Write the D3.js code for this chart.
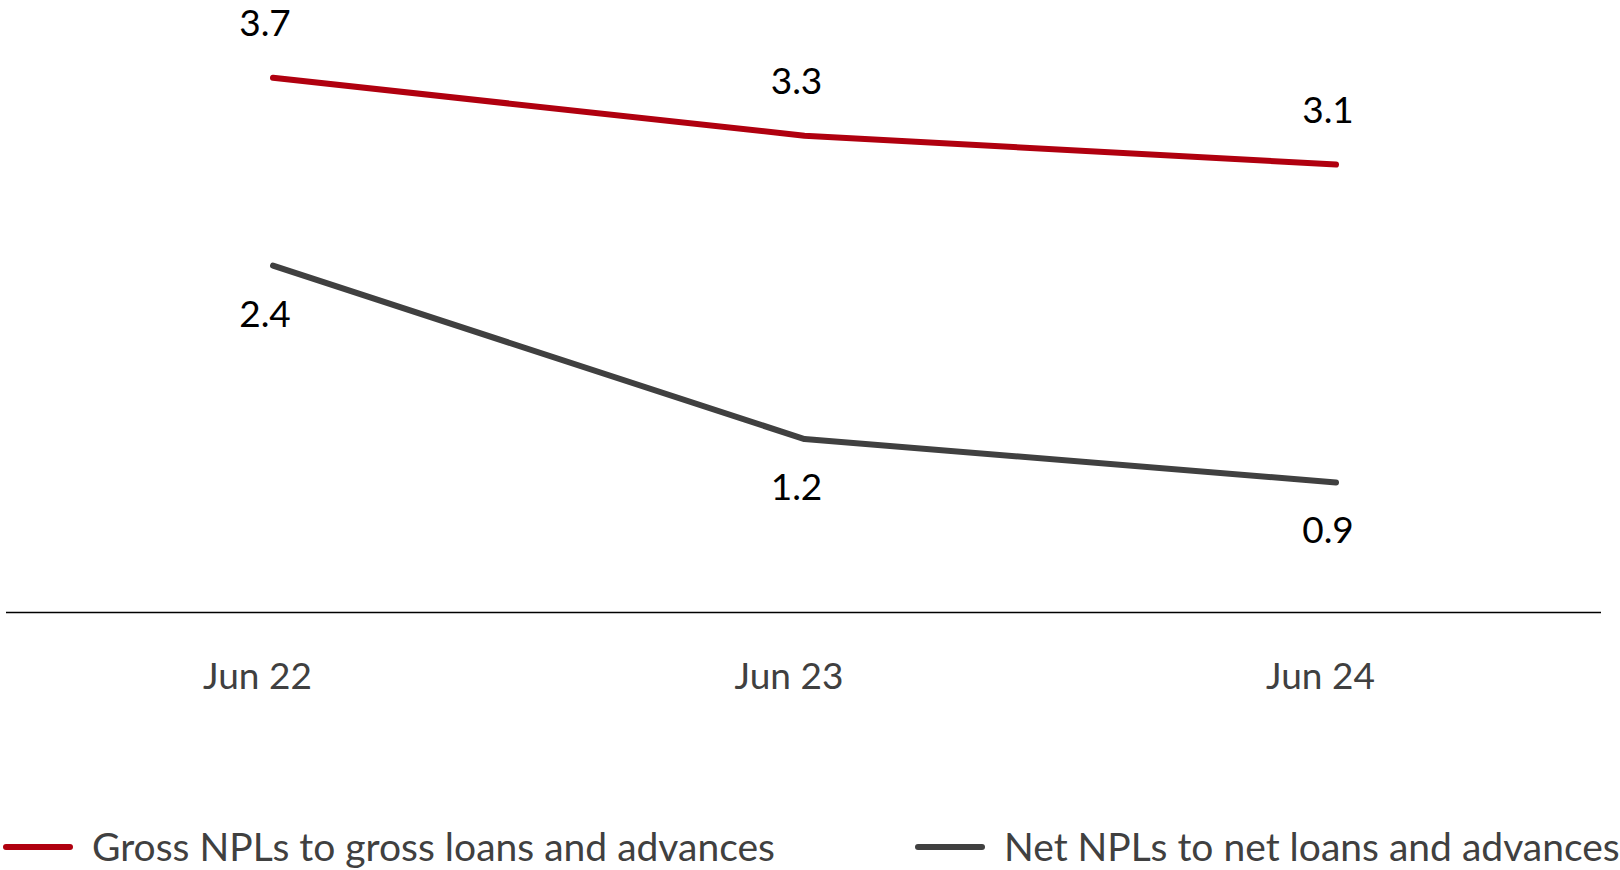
<!DOCTYPE html>
<html>
<head>
<meta charset="utf-8">
<script src="https://cdn.jsdelivr.net/npm/d3@7"></script>
<style>
  html, body { margin: 0; padding: 0; background: #ffffff; }
  svg { display: block; font-family: Lato, "Open Sans", sans-serif; }
</style>
</head>
<body>
<svg id="chart" width="1620" height="870"></svg>
<script>
// Periods on the x axis
const categories = ["Jun 22", "Jun 23", "Jun 24"];
// NPL ratios (%)
const grossNPL = [3.7, 3.3, 3.1];
const netNPL = [2.4, 1.2, 0.9];
const seriesNames = ["Gross NPLs to gross loans and advances", "Net NPLs to net loans and advances"];
const yDomain = [0, 4];

const series = [
  { name: seriesNames[0], values: grossNPL, color: "#b0000f", labelPos: "above" },
  { name: seriesNames[1], values: netNPL, color: "#404040", labelPos: "below" }
];

const svg = d3.select("#chart");

const x = d3.scalePoint().domain(categories).range([273, 1336]);
const y = d3.scaleLinear().domain(yDomain).range([612.5, 34.5]);

// baseline across the full width
svg.append("line")
  .attr("x1", 6).attr("x2", 1601)
  .attr("y1", y(0)).attr("y2", y(0))
  .attr("stroke", "#000").attr("stroke-width", 1.5);

// category axis (labels only)
const xAxis = svg.append("g")
  .attr("transform", `translate(0,${y(0)})`)
  .call(d3.axisBottom(x).tickSize(0).tickPadding(0));
xAxis.select(".domain").remove();
xAxis.selectAll("text")
  .attr("dx", -16)
  .attr("dy", 0)
  .attr("y", 76)
  .attr("fill", "#404040")
  .style("font-family", "Lato, sans-serif")
  .style("font-size", "37px");

const line = d3.line()
  .x((d, i) => x(categories[i]))
  .y(d => y(d));

series.forEach(s => {
  svg.append("path")
    .datum(s.values)
    .attr("d", line)
    .attr("fill", "none")
    .attr("stroke", s.color)
    .attr("stroke-width", 6)
    .attr("stroke-linecap", "round")
    .attr("stroke-linejoin", "round");

  svg.append("g").selectAll("text")
    .data(s.values)
    .join("text")
    .attr("x", (d, i) => x(categories[i]) - 8)
    .attr("y", d => s.labelPos === "above" ? y(d) - 42 : y(d) + 61)
    .attr("text-anchor", "middle")
    .attr("fill", "#000")
    .style("font-size", "37px")
    .text(d => d3.format(".1f")(d));
});

// legend
const legendX = [3, 915];
const legend = svg.append("g");
series.forEach((s, i) => {
  const g = legend.append("g").attr("transform", `translate(${legendX[i]},847)`);
  g.append("line")
    .attr("x1", 3).attr("x2", 67)
    .attr("y1", 0).attr("y2", 0)
    .attr("stroke", s.color)
    .attr("stroke-width", 6)
    .attr("stroke-linecap", "round");
  g.append("text")
    .attr("x", 89)
    .attr("y", 14)
    .attr("fill", "#404040")
    .style("font-size", "39px")
    .text(s.name);
});
</script>
</body>
</html>
